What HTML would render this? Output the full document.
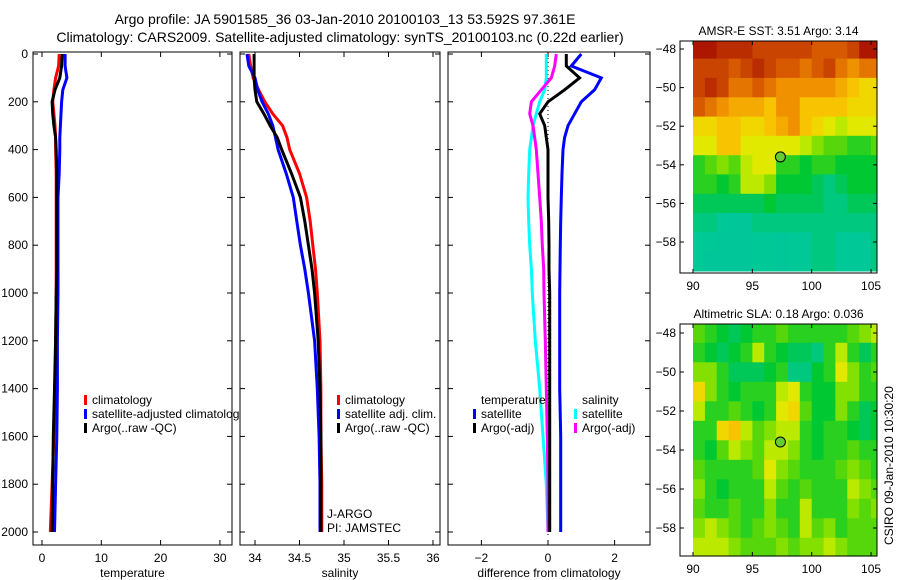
<!DOCTYPE html>
<html><head><meta charset="utf-8"><style>
body{margin:0;background:#fff;}
svg{display:block;font-family:"Liberation Sans",sans-serif;}
text{fill:#000;}
</style></head><body>
<svg id="fig" width="900" height="580" viewBox="0 0 900 580" xmlns="http://www.w3.org/2000/svg">
<text x="345" y="24" font-size="14" text-anchor="middle">Argo profile: JA 5901585_36 03-Jan-2010 20100103_13 53.592S 97.361E</text>
<text x="340" y="42" font-size="14" text-anchor="middle">Climatology: CARS2009. Satellite-adjusted climatology: synTS_20100103.nc (0.22d earlier)</text>
<g id="plots"></g>
</svg>
<script>
// ---- profile data ----
const depths = [0,50,100,150,200,250,300,350,400,500,600,700,800,900,1000,1200,1400,1600,1800,2000];
const tempClim = [2.9,2.8,2.3,2.0,1.8,2.0,2.2,2.3,2.3,2.4,2.4,2.4,2.4,2.4,2.4,2.3,2.2,2.0,1.7,1.4];
const tempSat = [3.9,3.9,4.2,3.5,3.3,3.2,3.1,3.0,3.0,2.9,2.7,2.7,2.7,2.7,2.7,2.6,2.6,2.5,2.3,2.1];
const tempArgo = [3.4,3.3,3.0,2.2,1.7,1.8,2.0,2.3,2.4,2.5,2.5,2.5,2.5,2.5,2.4,2.3,2.1,1.9,1.8,1.7];
const salClim = [33.93,33.95,33.98,34.04,34.11,34.2,34.31,34.36,34.39,34.5,34.58,34.62,34.65,34.68,34.7,34.73,34.74,34.74,34.75,34.75];
const salSat = [33.91,33.93,34.0,34.03,34.08,34.15,34.2,34.23,34.26,34.35,34.43,34.47,34.51,34.56,34.6,34.67,34.7,34.72,34.73,34.73];
const salArgo = [33.99,33.99,33.99,34.0,34.02,34.1,34.17,34.25,34.3,34.41,34.51,34.56,34.6,34.64,34.67,34.71,34.73,34.74,34.74,34.74];
const diffTempSat = [1.0,0.7,1.6,1.4,1.0,0.8,0.6,0.5,0.45,0.42,0.4,0.38,0.37,0.36,0.35,0.35,0.35,0.38,0.38,0.38];
const diffTempArgo = [0.55,0.55,0.95,0.5,0.0,-0.25,-0.1,-0.05,0.0,0.0,0.0,0.02,0.03,0.03,0.05,0.05,0.05,0.05,0.05,0.05];
const diffSalSat = [-0.05,-0.05,-0.05,-0.1,-0.25,-0.35,-0.45,-0.5,-0.55,-0.58,-0.6,-0.58,-0.55,-0.5,-0.47,-0.38,-0.25,-0.15,-0.05,0.0];
const diffSalArgo = [0.25,0.2,0.1,-0.2,-0.5,-0.55,-0.45,-0.4,-0.35,-0.3,-0.25,-0.2,-0.17,-0.13,-0.12,-0.08,-0.05,-0.02,0.0,0.0];
const depthTicks = [0,200,400,600,800,1000,1200,1400,1600,1800,2000];
const tempTicks = [0,10,20,30];
const salTicks = [34,34.5,35,35.5,36];
const diffTicks = [-2,0,2];
// ---- map data (rows lat -48..-59, cols lon 90..105) ----
const mapLons = [90,91,92,93,94,95,96,97,98,99,100,101,102,103,104,105];
const mapLats = [-48,-49,-50,-51,-52,-53,-54,-55,-56,-57,-58,-59];
const sstGrid = [
[0.95,0.95,0.9,0.9,0.9,0.85,0.85,0.85,0.85,0.85,0.8,0.8,0.8,0.85,0.95,0.95],
[0.85,0.85,0.85,0.8,0.85,0.9,0.85,0.8,0.8,0.75,0.8,0.85,0.75,0.7,0.75,0.75],
[0.85,0.9,0.85,0.75,0.75,0.8,0.75,0.7,0.7,0.7,0.7,0.7,0.65,0.6,0.55,0.55],
[0.8,0.75,0.7,0.65,0.65,0.65,0.6,0.7,0.7,0.6,0.6,0.6,0.6,0.55,0.55,0.55],
[0.55,0.55,0.6,0.6,0.55,0.55,0.6,0.65,0.7,0.6,0.55,0.5,0.45,0.5,0.5,0.5],
[0.5,0.5,0.6,0.6,0.5,0.5,0.5,0.5,0.5,0.45,0.4,0.35,0.35,0.3,0.3,0.35],
[0.3,0.35,0.4,0.35,0.45,0.5,0.5,0.3,0.3,0.25,0.3,0.3,0.25,0.25,0.25,0.25],
[0.3,0.3,0.25,0.3,0.45,0.45,0.4,0.25,0.25,0.25,0.2,0.15,0.2,0.25,0.25,0.25],
[0.2,0.2,0.2,0.2,0.2,0.2,0.25,0.2,0.2,0.2,0.2,0.15,0.15,0.2,0.2,0.2],
[0.15,0.15,0.12,0.1,0.1,0.15,0.15,0.15,0.15,0.15,0.15,0.15,0.15,0.15,0.15,0.15],
[0.12,0.12,0.1,0.1,0.1,0.12,0.12,0.1,0.12,0.12,0.15,0.15,0.12,0.12,0.12,0.15],
[0.12,0.1,0.1,0.1,0.1,0.12,0.12,0.1,0.12,0.12,0.15,0.15,0.12,0.12,0.12,0.15]];
const slaGrid = [
[0.35,0.3,0.25,0.2,0.25,0.3,0.3,0.35,0.3,0.3,0.3,0.3,0.3,0.35,0.4,0.45],
[0.3,0.25,0.2,0.25,0.3,0.45,0.3,0.25,0.2,0.2,0.15,0.3,0.45,0.3,0.2,0.3],
[0.4,0.4,0.3,0.2,0.2,0.2,0.25,0.3,0.15,0.15,0.25,0.3,0.5,0.4,0.3,0.35],
[0.55,0.4,0.3,0.25,0.3,0.3,0.3,0.45,0.5,0.3,0.25,0.25,0.4,0.4,0.3,0.3],
[0.45,0.3,0.3,0.35,0.3,0.25,0.3,0.5,0.55,0.35,0.25,0.25,0.4,0.3,0.2,0.25],
[0.3,0.3,0.55,0.6,0.45,0.35,0.4,0.45,0.45,0.3,0.25,0.3,0.3,0.25,0.2,0.25],
[0.3,0.25,0.35,0.45,0.4,0.35,0.45,0.45,0.4,0.3,0.25,0.3,0.3,0.35,0.3,0.3],
[0.35,0.3,0.3,0.3,0.3,0.35,0.5,0.4,0.35,0.3,0.3,0.3,0.35,0.4,0.35,0.3],
[0.4,0.3,0.25,0.3,0.3,0.3,0.45,0.35,0.3,0.35,0.3,0.3,0.3,0.45,0.4,0.35],
[0.35,0.3,0.3,0.35,0.3,0.3,0.4,0.3,0.3,0.45,0.3,0.3,0.3,0.4,0.35,0.4],
[0.4,0.45,0.4,0.35,0.3,0.35,0.4,0.35,0.3,0.45,0.35,0.4,0.3,0.35,0.35,0.35],
[0.45,0.45,0.45,0.4,0.35,0.35,0.35,0.4,0.35,0.4,0.4,0.45,0.4,0.35,0.35,0.35]];
const latTicks = [-48,-50,-52,-54,-56,-58];
const lonTicks = [90,95,100,105];
const floatLon = 97.361, floatLat = -53.592;

const NS='http://www.w3.org/2000/svg';
const root=document.getElementById('plots');
function mk(tag,attrs,parent){const e=document.createElementNS(NS,tag);for(const k in attrs)e.setAttribute(k,attrs[k]);(parent||root).appendChild(e);return e;}
function txt(s,x,y,size,anchor,parent){const t=mk('text',{x:x,y:y,'font-size':size,'text-anchor':anchor||'start'},parent);t.textContent=s;return t;}

const yTop=52, yBot=545;
const yD=d=>54+d*0.239;
function panel(name,x0,x1,xfn,ticks,fmt,label,showY){
  const g=mk('g',{});
  
  
  const box=mk('rect',{x:x0,y:yTop,width:x1-x0,height:yBot-yTop,fill:'none',stroke:'#000','stroke-width':1},g);
  
  
  ticks.forEach(v=>{const x=xfn(v);
    mk('line',{x1:x,x2:x,y1:yBot,y2:yBot-5,stroke:'#000'},g);
    mk('line',{x1:x,x2:x,y1:yTop,y2:yTop+5,stroke:'#000'},g);
    const t=txt(fmt(v),x,yBot+17,12,'middle',g);
    
    
  });
  depthTicks.forEach(d=>{const y=yD(d);
    mk('line',{x1:x0,x2:x0+5,y1:y,y2:y,stroke:'#000'},g);
    mk('line',{x1:x1,x2:x1-5,y1:y,y2:y,stroke:'#000'},g);
    if(showY){const t=txt(String(d),x0-5,y+4,12,'end',g);
      
      }
  });
  const xl=txt(label,(x0+x1)/2,yBot+32,12,'middle',g);
  
  
  return g;
}
function series(g,vals,xfn,color,name){
  const pts=vals.map((v,i)=>xfn(v).toFixed(1)+','+yD(depths[i]).toFixed(1)).join(' ');
  const p=mk('polyline',{points:pts,fill:'none',stroke:color,'stroke-width':3,'stroke-linejoin':'miter'},g);
  
  
}
function legend(g,items,x,y){
  items.forEach((it,i)=>{
    const yy=y+i*14;
    if(it[1]){mk('rect',{x:x,y:yy-9,width:3,height:10,fill:it[1]},g);}
    const t=txt(it[0],x+8,yy,12,'start',g);
    
    
  });
}

// Panel 1 temperature
const xT=v=>42+5.93*v;
const g1=panel('temperature-panel',33,232,xT,tempTicks,v=>String(v),'temperature',true);
series(g1,tempClim,xT,'#f00','temp-climatology-line');
series(g1,tempSat,xT,'#00f','temp-satellite-line');
series(g1,tempArgo,xT,'#000','temp-argo-line');
const c1=mk('clipPath',{id:'c1'});mk('rect',{x:33,y:0,width:206,height:580},c1);
const lg1=mk('g',{'clip-path':'url(#c1)'},g1);
legend(lg1,[['climatology','#f00'],['satellite-adjusted climatology','#00f'],['Argo(..raw -QC)','#000']],84,404);

// Panel 2 salinity
const xS=v=>255+89*(v-34);
const g2=panel('salinity-panel',240,440,xS,salTicks,v=>String(v),'salinity',false);
series(g2,salClim,xS,'#f00','sal-climatology-line');
series(g2,salSat,xS,'#00f','sal-satellite-line');
series(g2,salArgo,xS,'#000','sal-argo-line');
legend(g2,[['climatology','#f00'],['satellite adj. clim.','#00f'],['Argo(..raw -QC)','#000']],337,404);
const j1=txt('J-ARGO',327,518,12,'start',g2);
const j2=txt('PI: JAMSTEC',327,532,12,'start',g2);

// Panel 3 differences
const xDf=v=>548+33.3*v;
const g3=panel('difference-panel',448,650,xDf,diffTicks,v=>v<0?'\u2212'+Math.abs(v):String(v),'difference from climatology',false);
mk('line',{x1:xDf(0),x2:xDf(0),y1:yTop+2,y2:yD(2000)+4,stroke:'#000','stroke-dasharray':'1,3'},g3);
series(g3,diffTempSat,xDf,'#00f','diff-temp-satellite-line');
series(g3,diffSalSat,xDf,'#0ff','diff-sal-satellite-line');
series(g3,diffSalArgo,xDf,'#f0f','diff-sal-argo-line');
series(g3,diffTempArgo,xDf,'#000','diff-temp-argo-line');
legend(g3,[['temperature',null],['satellite','#00f'],['Argo(-adj)','#000']],473,404);
legend(g3,[['salinity',null],['satellite','#0ff'],['Argo(-adj)','#f0f']],574,404);

// colormap
const cstops=[[0,[0,190,170]],[0.12,[0,200,150]],[0.25,[0,200,50]],[0.38,[110,220,0]],[0.48,[220,240,0]],[0.58,[250,205,0]],[0.7,[240,145,0]],[0.8,[215,90,0]],[0.9,[185,45,0]],[1,[160,0,0]]];
function cmap(v){for(let i=1;i<cstops.length;i++){if(v<=cstops[i][0]){const a=cstops[i-1],b=cstops[i],t=(v-a[0])/(b[0]-a[0]);
  const c=a[1].map((x,k)=>Math.round(x+(b[1][k]-x)*t));return 'rgb('+c.join(',')+')';}}return 'rgb(160,0,0)';}

function mapPanel(name,grid,title,bx0,by0,bx1,by1,lat48y,lat58y){
  const g=mk('g',{});
  
  
  const lonX=l=>693+(l-90)*11.87;
  const latY=l=>lat48y+(-48-l)*(lat58y-lat48y)/10;
  const cw=lonX(91)-lonX(90), ch=latY(-49)-latY(-48);
  grid.forEach((row,r)=>row.forEach((v,c)=>{
    const x=lonX(mapLons[c]), y=latY(mapLats[r])-ch/2;
    const top=Math.max(y,by0), bot=Math.min(y+ch,by1), right=Math.min(x+cw,bx1);
    if(bot>top){const cell=mk('rect',{x:x.toFixed(1),y:top.toFixed(1),width:(right-x+0.5).toFixed(1),height:(bot-top+0.5).toFixed(1),fill:cmap(v)},g);
      
      }
  }));
  const fr=mk('rect',{x:bx0,y:by0,width:bx1-bx0,height:by1-by0,fill:'none',stroke:'#000'},g);
  
  latTicks.forEach(l=>{const y=latY(l);
    mk('line',{x1:bx0,x2:bx0+4,y1:y,y2:y,stroke:'#000'},g);
    mk('line',{x1:bx1,x2:bx1-4,y1:y,y2:y,stroke:'#000'},g);
    const t=txt('\u2212'+Math.abs(l),bx0-4,y+4,12,'end',g);
    });
  lonTicks.forEach(l=>{const x=lonX(l);
    mk('line',{x1:x,x2:x,y1:by1,y2:by1-4,stroke:'#000'},g);
    mk('line',{x1:x,x2:x,y1:by0,y2:by0+4,stroke:'#000'},g);
    const t=txt(String(l),x,by1+17,12,'middle',g);
    });
  const tt=txt(title,(bx0+bx1)/2,by0-6,12,'middle',g);
  
  const fl=mk('circle',{cx:lonX(floatLon),cy:latY(floatLat),r:5,fill:'#6c3',stroke:'#000','stroke-width':1},g);
  
}
mapPanel('sst-map',sstGrid,'AMSR-E SST: 3.51 Argo: 3.14',680,41,877,273,49,242);
mapPanel('sla-map',slaGrid,'Altimetric SLA: 0.18 Argo: 0.036',680,324,877,556,333,528);
const cs=mk('text',{x:0,y:0,'font-size':12,transform:'translate(893,545) rotate(-90)'});
cs.textContent='CSIRO 09-Jan-2010 10:30:20';


</script>
</body></html>
